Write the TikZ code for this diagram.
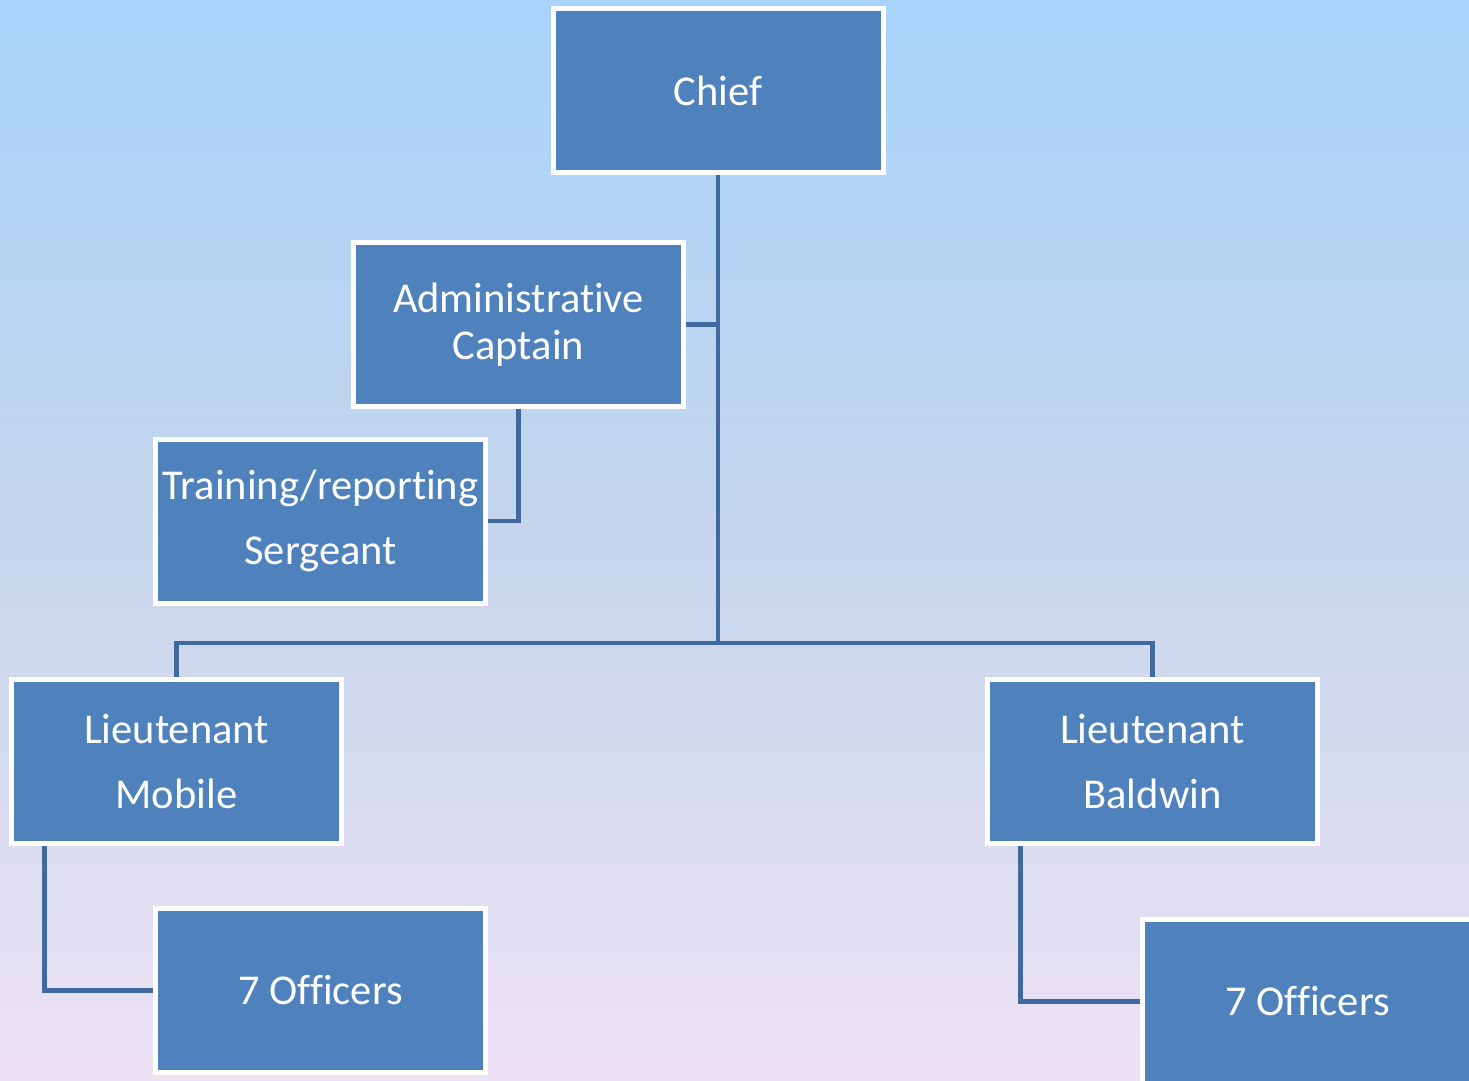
\documentclass[tikz,border=0pt]{standalone}
\usepackage{fontspec}
\setmainfont[Ligatures={NoCommon}]{Carlito}
\definecolor{boxblue}{HTML}{4F81BD}
\definecolor{linkblue}{HTML}{40699F}
\definecolor{bgtop}{RGB}{168,211,251}
\definecolor{bgmid}{RGB}{198,214,236}
\definecolor{bgbot}{RGB}{237,226,244}
\begin{document}
\begin{tikzpicture}[x=1pt,y=-1pt,
  box/.style={rectangle, fill=boxblue, draw=white, line width=5pt,
    minimum width=330pt, minimum height=164pt, inner sep=0pt,
    text=white, align=center, font=\fontsize{42.5}{47}\selectfont},
  link/.style={draw=linkblue, line width=4.5pt}]
\useasboundingbox (0,0) rectangle (1469,1080);
\shade[top color=bgtop, bottom color=bgbot, middle color=bgmid] (0,0) rectangle (1469,1080);
\node[box] (chief) at (718,90.5) {Chief};
\node[box] (admin) at (518.5,324.5) {Administrative\\Captain};
\node[box] (train) at (320.5,521) {Training/reporting\\[18pt]Sergeant};
\node[box] (ltm) at (176.5,761.5) {Lieutenant\\[18pt]Mobile};
\node[box] (ltb) at (1152.5,761.5) {Lieutenant\\[18pt]Baldwin};
\node[box] (offl) at (320.5,990.5) {7 Officers};
\node[box] (offr) at (1307.5,1001.5) {7 Officers};
\coordinate (j) at (718,643);
\draw[link] (chief.south) -- (j);
\draw[link] (admin.east) -- (admin.east -| j);
\draw[link] (admin.south) |- (train.east);
\draw[link] (ltm.north) |- (j) -| (ltb.north);
\draw[link] ([xshift=-132pt]ltm.south) |- (offl.west);
\draw[link] ([xshift=-132pt]ltb.south) |- (offr.west);
\end{tikzpicture}
\end{document}
